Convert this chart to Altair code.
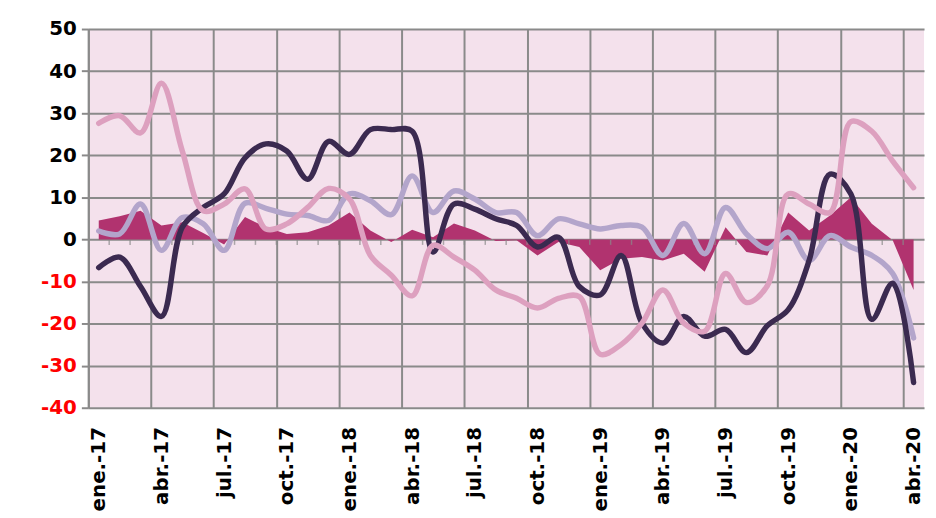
import altair as alt
import pandas as pd

months = [
    "ene.-17", "feb.-17", "mar.-17", "abr.-17", "may.-17", "jun.-17",
    "jul.-17", "ago.-17", "sep.-17", "oct.-17", "nov.-17", "dic.-17",
    "ene.-18", "feb.-18", "mar.-18", "abr.-18", "may.-18", "jun.-18",
    "jul.-18", "ago.-18", "sep.-18", "oct.-18", "nov.-18", "dic.-18",
    "ene.-19", "feb.-19", "mar.-19", "abr.-19", "may.-19", "jun.-19",
    "jul.-19", "ago.-19", "sep.-19", "oct.-19", "nov.-19", "dic.-19",
    "ene.-20", "feb.-20", "mar.-20", "abr.-20",
]

area_vals = [4.5, 5.5, 6.8, 3.3, 4.1, 1.5, -1.2, 5.3, 2.9, 1.3, 1.7, 3.3,
             6.4, 2.1, -0.6, 2.3, 0.5, 3.8, 2.1, -0.4, -0.2, -3.8, -0.6, -1.8,
             -7.3, -4.6, -4.2, -5.0, -3.4, -7.7, 2.9, -3.0, -3.8, 6.4, 2.1, 5.7,
             10.0, 3.7, -0.2, -12.0]

dark_vals = [-6.7, -4.2, -11.2, -18.3, 2.9, 7.6, 10.8, 19.4, 22.7, 21.0, 14.3, 23.3,
             20.2, 26.1, 26.1, 25.7, -3.0, 8.4, 7.2, 4.9, 3.3, -1.8, 0.5, -11.2,
             -13.2, -3.8, -19.9, -24.6, -18.3, -23.0, -21.4, -26.9, -20.5, -16.7, -5.0, 15.5,
             10.8, -19.0, -10.4, -34.0]

pink_vals = [27.6, 29.4, 25.3, 37.1, 21.0, 6.8, 8.4, 12.0, 2.5, 3.7, 7.6, 12.1,
             9.6, -3.8, -8.5, -13.4, -1.4, -4.2, -7.3, -12.0, -14.0, -16.3, -14.0, -13.6,
             -27.3, -25.0, -19.9, -12.0, -19.9, -21.8, -8.1, -15.0, -11.0, 10.8, 8.4, 6.4,
             28.0, 25.7, 18.6, 12.3]

lav_vals = [2.0, 1.3, 8.4, -2.6, 5.2, 3.7, -2.6, 8.6, 7.4, 6.0, 5.7, 4.5,
            10.8, 9.2, 5.9, 15.1, 6.4, 11.5, 9.6, 6.4, 6.4, 0.9, 4.9, 3.7,
            2.5, 3.3, 2.9, -3.8, 3.8, -3.4, 7.6, 1.3, -2.2, 1.7, -5.0, 0.9,
            -1.8, -3.8, -8.1, -23.4]

y_ticks = [-40, -30, -20, -10, 0, 10, 20, 30, 40, 50]

AREA = "#B1336F"
DARK = "#3B2A50"
PINK = "#DDA0BF"
LAV = "#B3A5CB"
BG = "#F4E1EC"
GRID = "#8A8A8A"
FONT = "DejaVu Sans"

df = pd.DataFrame({
    "i": list(range(len(months))),
    "month": months,
    "area": area_vals,
    "dark": dark_vals,
    "pink": pink_vals,
    "lav": lav_vals,
})
df["b"] = df["i"] - 0.5

n = len(months)
xscale = alt.Scale(domain=[-0.5, n - 0.5], nice=False, zero=False)
yscale = alt.Scale(domain=[-40, 50], nice=False)

grid_vals = [k - 0.5 for k in range(0, n, 3)]
label_vals = list(range(0, n, 3))
label_expr = "[" + ",".join("'%s'" % m for m in months) + "][datum.value]"

base = alt.Chart(df)

area_layer = base.mark_area(color=AREA, interpolate="linear").encode(
    x=alt.X("i:Q", scale=xscale,
            axis=alt.Axis(orient="top", values=grid_vals, grid=True, labels=False,
                          ticks=False, domain=False, title=None,
                          gridColor=GRID, gridWidth=2, gridOpacity=1)),
    y=alt.Y("area:Q", scale=yscale,
            axis=alt.Axis(values=y_ticks, grid=True, gridColor=GRID, gridWidth=2,
                          gridOpacity=1, domainColor=GRID, domainWidth=2,
                          tickColor=GRID, tickWidth=2, tickSize=7,
                          labelExpr="'' + datum.value",
                          labelFont=FONT, labelFontSize=20, labelFontWeight="bold",
                          labelColor=alt.expr("datum.value < 0 ? '#FF0000' : '#000000'"),
                          labelPadding=5, title=None)),
)

minor_ticks = base.transform_filter("datum.i > 0").mark_tick(
    orient="vertical", size=5, yOffset=3, thickness=1.5, color=GRID
).encode(
    x=alt.X("b:Q", scale=xscale, axis=None),
    y=alt.Y(datum=0, scale=yscale, axis=None),
)

def line_layer(field, color, with_axis=False):
    if with_axis:
        xax = alt.Axis(orient="bottom", values=label_vals, labelExpr=label_expr,
                       labelAngle=-90, labelFont=FONT, labelFontSize=20,
                       labelFontWeight="bold", labelColor="#000000",
                       labelPadding=19, ticks=False, domain=False, grid=False,
                       title=None)
    else:
        xax = None
    return base.mark_line(interpolate="catmull-rom", strokeWidth=5.5,
                          strokeCap="round", color=color).encode(
        x=alt.X("i:Q", scale=xscale, axis=xax),
        y=alt.Y(field + ":Q", scale=yscale, axis=None),
    )

chart = alt.layer(
    area_layer,
    minor_ticks,
    line_layer("lav", LAV),
    line_layer("dark", DARK, with_axis=True),
    line_layer("pink", PINK),
).resolve_axis(
    x="independent", y="independent"
).properties(
    width=843, height=382,
    autosize=alt.AutoSizeParams(type="none"),
    padding={"left": 81, "top": 19, "right": 4, "bottom": 108},
    background="#FFFFFF",
).configure_view(
    fill=BG, strokeWidth=0
)

chart.save("out.html", embed_options={"renderer": "svg", "actions": False})
